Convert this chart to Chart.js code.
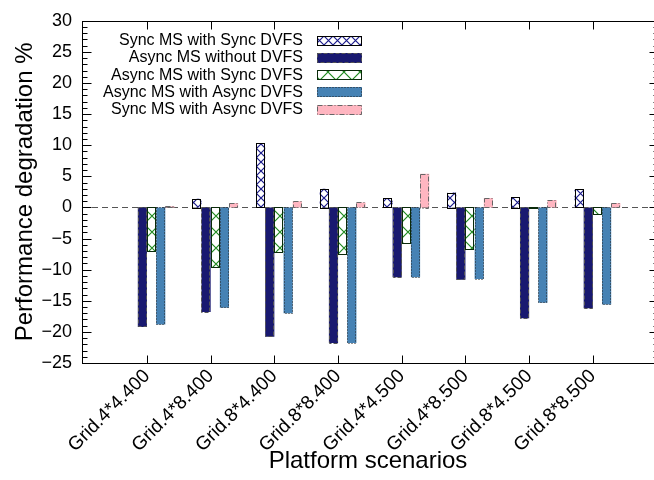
<!DOCTYPE html>
<html>
<head>
<meta charset="utf-8">
<script src="https://cdn.jsdelivr.net/npm/chart.js@4"></script>
<style>
  html, body { margin: 0; padding: 0; overflow: hidden; background: #fff; }
  #wrap { width: 654px; height: 480px; position: relative; }
</style>
</head>
<body>
<div id="wrap"><canvas id="perfChart"></canvas></div>
<script>
// platform scenarios (x axis)
const scenarios = ['Grid.4*4.400', 'Grid.4*8.400', 'Grid.8*4.400', 'Grid.8*8.400',
                   'Grid.4*4.500', 'Grid.4*8.500', 'Grid.8*4.500', 'Grid.8*8.500'];

// performance degradation % per series
const syncMsSyncDvfs   = [0.0, 1.4, 10.3, 3.0, 1.5, 2.4, 1.7, 2.9];
const asyncMsNoDvfs    = [-19.2, -16.8, -20.8, -21.8, -11.2, -11.6, -17.8, -16.2];
const asyncMsSyncDvfs  = [-7.1, -9.7, -7.3, -7.5, -5.8, -6.7, -0.2, -1.2];
const asyncMsAsyncDvfs = [-18.8, -16.1, -17.0, -21.8, -11.2, -11.5, -15.3, -15.6];
const syncMsAsyncDvfs  = [0.2, 0.7, 1.0, 0.8, 5.4, 1.5, 1.2, 0.7];

const seriesNames = ['Sync MS with Sync DVFS', 'Async MS without DVFS', 'Async MS with Sync DVFS',
                     'Async MS with Async DVFS', 'Sync MS with Async DVFS'];

// y axis ticks
const yMin = -25, yMax = 30, yStep = 5;

const FONT = '"Liberation Sans", Arial, sans-serif';
const GROUP_SHIFT = 0.072; // gnuplot puts the tic between bar 2 and 3
const X_MIN = -1.02, X_MAX = 7.96, X_RIGHT_EDGE = 8.02; // plot frame runs just past the picture

function hatch(size, color, lw) {
    const c = document.createElement('canvas');
    c.width = c.height = size;
    const g = c.getContext('2d');
    g.fillStyle = '#fff';
    g.fillRect(0, 0, size, size);
    g.strokeStyle = color;
    g.lineWidth = lw;
    g.beginPath();
    g.moveTo(0, 0); g.lineTo(size, size);
    g.moveTo(size, 0); g.lineTo(0, size);
    g.stroke();
    return g.createPattern(c, 'repeat');
}

const styles = [
    { fill: hatch(9, '#1a1a8a', 1.2), border: '#000', dash: [] },
    { fill: '#191970', border: '#555', dash: [4, 2] },
    { fill: hatch(16, '#1f8a1f', 1.2), border: '#0a2a0a', dash: [] },
    { fill: '#4682b4', border: '#222', dash: [1, 2] },
    { fill: '#ffb6c1', border: '#666', dash: [5, 2, 1, 2] }
];

const allSeries = [syncMsSyncDvfs, asyncMsNoDvfs, asyncMsSyncDvfs, asyncMsAsyncDvfs, syncMsAsyncDvfs];

const datasets = allSeries.map((vals, k) => ({
    label: seriesNames[k],
    data: vals.map((v, i) => ({ x: i + GROUP_SHIFT, y: v })),
    backgroundColor: styles[k].fill,
    borderWidth: 0,
    categoryPercentage: 0.72,
    barPercentage: 1.0
}));

// zero line + outlines + frame + legend
const decorations = {
    id: 'decorations',
    beforeDatasetsDraw(chart) {
        const { ctx, chartArea: a, scales: { y } } = chart;
        const y0 = Math.round(y.getPixelForValue(0)) + 0.5;
        ctx.save();
        ctx.strokeStyle = '#555';
        ctx.lineWidth = 1.2;
        ctx.setLineDash([6, 4]);
        ctx.beginPath();
        ctx.moveTo(a.left, y0);
        ctx.lineTo(a.right, y0);
        ctx.stroke();
        ctx.restore();
    },
    afterDatasetsDraw(chart) {
        const { ctx } = chart;
        ctx.save();
        ctx.lineWidth = 1;
        chart.data.datasets.forEach((ds, k) => {
            ctx.strokeStyle = styles[k].border;
            ctx.setLineDash(styles[k].dash);
            chart.getDatasetMeta(k).data.forEach(bar => {
                const p = bar.getProps(['x', 'y', 'base', 'width'], true);
                const l = p.x - p.width / 2;
                const t = Math.min(p.y, p.base);
                const h = Math.abs(p.base - p.y);
                if (h < 0.5) return;
                ctx.strokeRect(Math.round(l) + 0.5, Math.round(t) + 0.5, Math.round(p.width) - 1, Math.round(h));
            });
        });
        ctx.restore();
    },
    afterDraw(chart) {
        const { ctx, chartArea: a, scales: { x, y } } = chart;
        ctx.save();
        ctx.strokeStyle = '#000';
        ctx.lineWidth = 1;
        ctx.setLineDash([]);
        const L = Math.round(a.left) + 0.5;
        const R = Math.round(x.getPixelForValue(X_RIGHT_EDGE)) + 0.5;
        const T = Math.round(a.top) + 0.5, B = Math.round(a.bottom) + 0.5;
        ctx.strokeRect(L, T, R - L, B - T);
        ctx.beginPath();
        // y ticks, major and minor, on both sides
        for (let v = yMin; v <= yMax; v++) {
            const py = Math.round(y.getPixelForValue(v)) + 0.5;
            const len = (v % yStep === 0) ? 9 : 5;
            ctx.moveTo(L, py); ctx.lineTo(L + len, py);
            ctx.moveTo(R, py); ctx.lineTo(R - len, py);
        }
        // x ticks, bottom and top
        scenarios.forEach((s, i) => {
            const px = Math.round(x.getPixelForValue(i)) + 0.5;
            ctx.moveTo(px, B); ctx.lineTo(px, B - 8);
            ctx.moveTo(px, T); ctx.lineTo(px, T + 8);
        });
        ctx.stroke();

        // legend
        ctx.font = '16px ' + FONT;
        ctx.textAlign = 'right';
        ctx.textBaseline = 'middle';
        ctx.fillStyle = '#000';
        seriesNames.forEach((name, k) => {
            const cy = 40.5 + k * 17.3;
            ctx.fillText(name, 303, cy);
            const sx = 317, sw = 45, sh = 10, sy = Math.round(cy - 5);
            ctx.fillStyle = styles[k].fill;
            ctx.fillRect(sx, sy, sw, sh);
            ctx.strokeStyle = styles[k].border;
            ctx.setLineDash(styles[k].dash);
            ctx.lineWidth = 1;
            ctx.strokeRect(sx + 0.5, sy + 0.5, sw - 1, sh - 1);
            ctx.setLineDash([]);
            ctx.fillStyle = '#000';
        });
        ctx.restore();
    }
};

const ctx = document.getElementById('perfChart').getContext('2d');
new Chart(ctx, {
    type: 'bar',
    data: { datasets: datasets },
    options: {
        responsive: true,
        maintainAspectRatio: false,
        animation: false,
        events: [],
        layout: { padding: { top: 17, right: 0, left: 0, bottom: 0 } },
        plugins: {
            legend: { display: false },
            tooltip: { enabled: false }
        },
        scales: {
            x: {
                type: 'linear',
                offset: false,
                min: X_MIN,
                max: X_MAX,
                grid: { display: false, drawTicks: false, offset: false },
                border: { display: false },
                afterBuildTicks: scale => {
                    scale.ticks = scenarios.map((s, i) => ({ value: i }));
                },
                afterFit: scale => { scale.height = 117; },
                ticks: {
                    minRotation: 45,
                    maxRotation: 45,
                    autoSkip: false,
                    padding: 2,
                    color: '#000',
                    font: { family: FONT, size: 19 },
                    callback: v => scenarios[v] !== undefined ? scenarios[v] : ''
                },
                title: {
                    display: true,
                    text: 'Platform scenarios',
                    color: '#000',
                    font: { family: FONT, size: 24 },
                    padding: { top: 0, bottom: 4 }
                }
            },
            y: {
                min: yMin,
                max: yMax,
                grid: { display: false, drawTicks: false },
                border: { display: false },
                afterFit: scale => { scale.width = 82; },
                ticks: {
                    stepSize: yStep,
                    padding: 10,
                    color: '#000',
                    font: { family: FONT, size: 18 },
                    callback: v => v < 0 ? '\u2212' + Math.abs(v) : String(v)
                },
                title: {
                    display: true,
                    text: 'Performance degradation %',
                    color: '#000',
                    font: { family: FONT, size: 24 },
                    padding: { top: 11, bottom: 0 }
                }
            }
        }
    },
    plugins: [decorations]
});
</script>
</body>
</html>
